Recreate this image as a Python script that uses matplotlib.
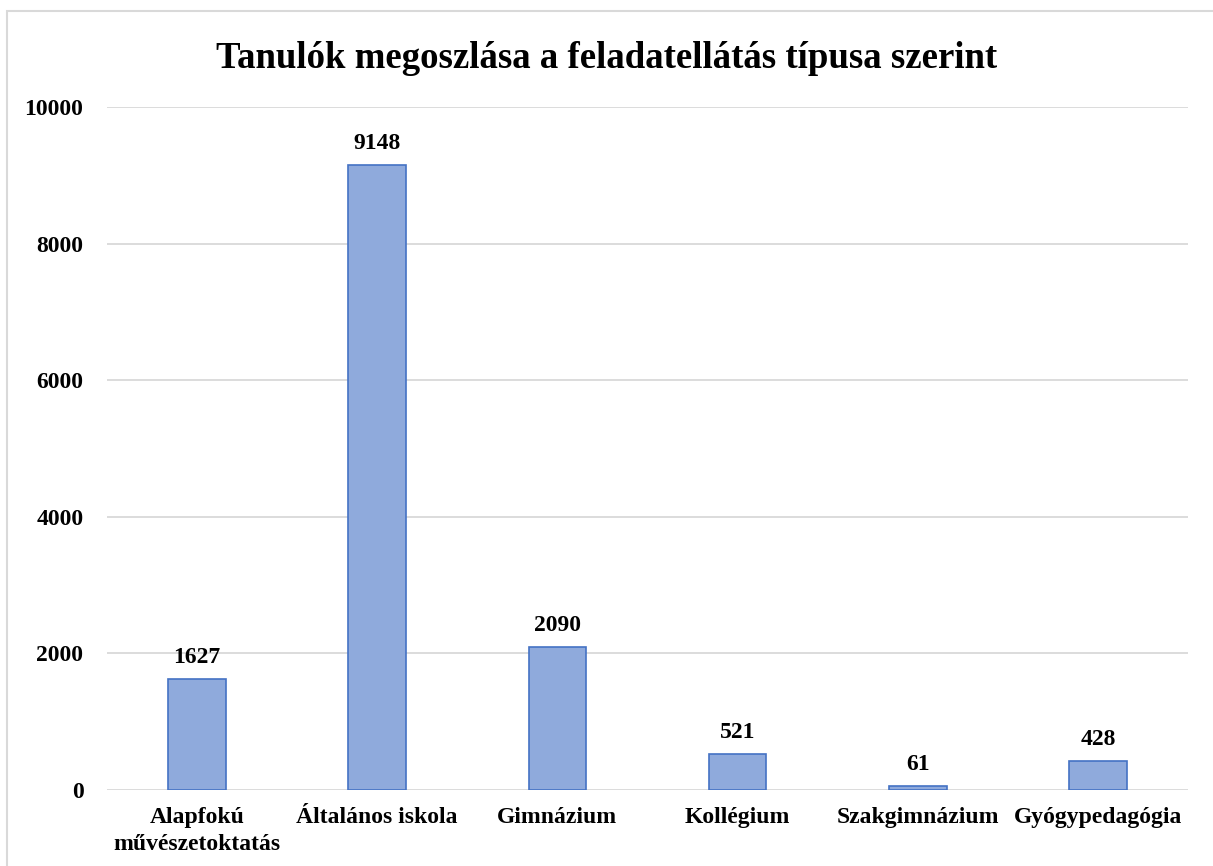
import matplotlib.pyplot as plt
from matplotlib.patches import Rectangle

# Data
categories = ["Alapfokú\nművészetoktatás", "Általános iskola", "Gimnázium",
              "Kollégium", "Szakgimnázium", "Gyógypedagógia"]
values = [1627, 9148, 2090, 521, 61, 428]
yticks = [0, 2000, 4000, 6000, 8000, 10000]

plt.rcParams["font.family"] = ["Liberation Serif", "DejaVu Serif"]
plt.rcParams["font.weight"] = "bold"

fig = plt.figure(figsize=(12.13, 8.66), dpi=100)
ax = fig.add_axes([107 / 1213, 1 - 790 / 866, 1081 / 1213, 683 / 866])

x = range(len(categories))
ax.bar(x, values, width=0.32, color="#8FAADC", edgecolor="#4472C4", linewidth=1.2, zorder=3)

for xi, v in zip(x, values):
    ax.annotate(str(v), (xi, v), xytext=(0, 8), textcoords="offset points",
                ha="center", va="bottom", fontsize=17, fontweight="bold")

ax.set_xlim(-0.5, len(categories) - 0.5)
ax.set_ylim(0, 10000)
ax.set_yticks(yticks)
ax.set_xticks(list(x))
ax.set_xticklabels(categories, fontsize=17, fontweight="bold", linespacing=1.4)
ax.tick_params(axis="y", labelsize=17, length=0, pad=17)
ax.tick_params(axis="x", length=0, pad=12)
ax.grid(axis="y", color="#D9D9D9", linewidth=1.3, zorder=0)
for s in ax.spines.values():
    s.set_visible(False)

fig.text(0.5, 1 - 58 / 866, "Tanulók megoszlása a feladatellátás típusa szerint",
         ha="center", va="center", fontsize=26.5, fontweight="bold")

# light frame around the chart area
fig.patches.append(Rectangle((7 / 1213, -0.05), 1.1, 1 - 11 / 866 + 0.05,
                             transform=fig.transFigure, fill=False,
                             edgecolor="#D9D9D9", linewidth=1.5))

fig.savefig("out.png", dpi=100)
